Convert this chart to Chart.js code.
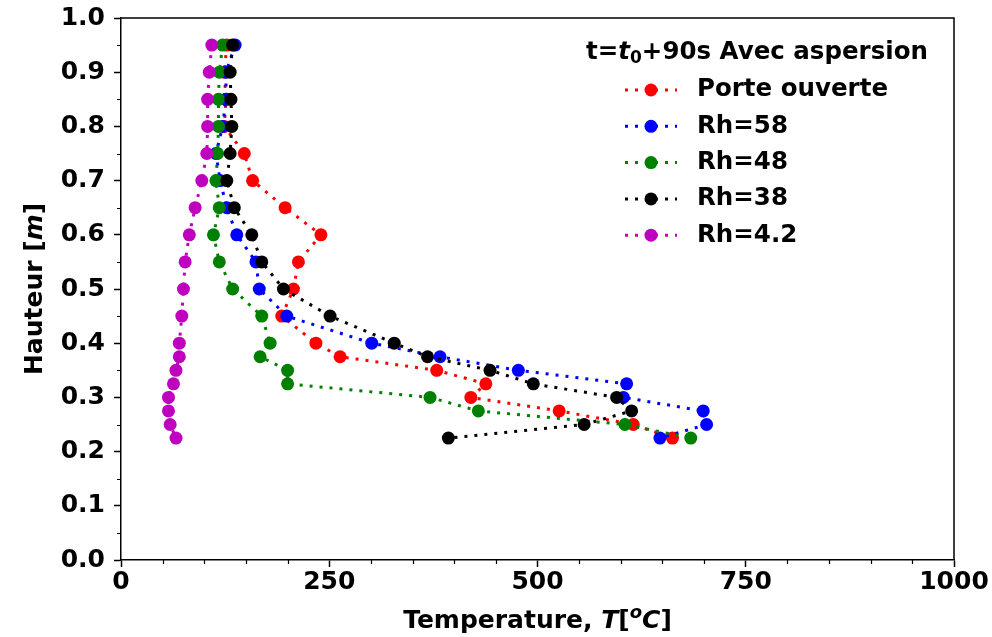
<!DOCTYPE html>
<html><head><meta charset="utf-8">
<script src="https://cdn.jsdelivr.net/npm/chart.js@4/dist/chart.umd.min.js"></script>
<style>html,body{margin:0;padding:0;background:#fff}</style>
</head><body>
<canvas id="c" width="992" height="637"></canvas>
<script>
// ---- data ----
const heights = [0.95,0.9,0.85,0.8,0.75,0.7,0.65,0.6,0.55,0.5,0.45,0.4,0.375,0.35,0.325,0.3,0.275,0.25,0.225];
const tempPorteOuverte = [127,124,126,124,148,158,197,240,213,207,193,234,263,379,438,420,526,615,662];
const tempRh58 = [137,126,126,122,114,119,127,139,162,166,199,301,383,477,607,603,699,703,647];
const tempRh48 = [122,118,117,117,116,114,118,111,118,134,169,179,167,200,200,371,429,605,684];
const tempRh38 = [134,131,132,133,131,127,136,157,169,195,251,328,368,443,495,595,613,556,393];
const tempRh42 = [109,106,104,104,103,97,89,82,77,75,73,70,70,66,63,57,57,59,66];
const seriesLabels = ['Porte ouverte','Rh=58','Rh=48','Rh=38','Rh=4.2'];
const seriesColors = ['#ff0000','#0000ff','#008000','#000000','#bf00bf'];
const xTickValues = [0,250,500,750,1000];
const yTickValues = [0,0.1,0.2,0.3,0.4,0.5,0.6,0.7,0.8,0.9,1.0];

const FONT = "'DejaVu Sans', 'Liberation Sans', sans-serif";
const FS = 25;
const LFS = 24.5;
const allTemps = [tempPorteOuverte,tempRh58,tempRh48,tempRh38,tempRh42];

const datasets = allTemps.map((arr,i)=>({
  label: seriesLabels[i],
  data: arr.map((t,k)=>({x:t,y:heights[k]})),
  showLine:true,
  borderColor: seriesColors[i],
  backgroundColor: seriesColors[i],
  pointBackgroundColor: seriesColors[i],
  pointBorderWidth:0,
  pointRadius:6.5,
  pointHoverRadius:6.5,
  borderWidth:3,
  borderDash:[3,7],
  borderCapStyle:'butt',
  tension:0,
  order: allTemps.length - i
}));

function drawRich(ctx, parts, x, y, align){
  let w = 0;
  parts.forEach(p=>{ctx.font=p.font; w += ctx.measureText(p.t).width;});
  let cx = align==='center' ? x - w/2 : x;
  ctx.textAlign='left'; ctx.textBaseline='middle';
  parts.forEach(p=>{ctx.font=p.font; ctx.fillText(p.t, cx, y + (p.dy||0)); cx += ctx.measureText(p.t).width;});
}

const decor = {
  id:'decor',
  afterDraw(chart){
    const ctx = chart.ctx, a = chart.chartArea;
    const xs = chart.scales.x, ys = chart.scales.y;
    ctx.save();
    ctx.strokeStyle='#000'; ctx.lineWidth=1.5;
    ctx.beginPath();
    ctx.moveTo(a.left, a.top); ctx.lineTo(a.right, a.top); ctx.lineTo(a.right, a.bottom);
    ctx.stroke();
    // minor ticks
    ctx.lineWidth=1.2;
    ctx.beginPath();
    for(let v=50; v<1000; v+=50){ if(v%250===0) continue; const px=Math.round(xs.getPixelForValue(v))+0.5; ctx.moveTo(px,a.bottom); ctx.lineTo(px,a.bottom+4); }
    for(let k=1;k<20;k+=2){ const py=Math.round(ys.getPixelForValue(k*0.05))+0.5; ctx.moveTo(a.left,py); ctx.lineTo(a.left-4,py); }
    ctx.stroke();
    // axis titles
    ctx.fillStyle='#000';
    const B = 'bold '+FS+'px '+FONT, BI = 'italic bold '+FS+'px '+FONT, BIs = 'italic bold '+Math.round(FS*0.7)+'px '+FONT;
    drawRich(ctx,[{t:'Temperature, ',font:B},{t:'T',font:BI},{t:'[',font:B},{t:'o',font:BIs,dy:-8},{t:'C',font:BI},{t:']',font:B}], (a.left+a.right)/2, 621, 'center');
    ctx.save();
    ctx.translate(35,(a.top+a.bottom)/2); ctx.rotate(-Math.PI/2);
    drawRich(ctx,[{t:'Hauteur [',font:B},{t:'m',font:BI},{t:']',font:B}],0,0,'center');
    ctx.restore();
    // legend
    const LB = 'bold '+LFS+'px '+FONT, LBI = 'italic bold '+LFS+'px '+FONT;
    drawRich(ctx,[{t:'t=',font:LB},{t:'t',font:LBI},{t:'0',font:'bold '+Math.round(LFS*0.7)+'px '+FONT,dy:6},{t:'+90s Avec aspersion',font:LB}], 757, 53, 'center');
    const ly0 = 90, dy = 36.3;
    chart.data.datasets.forEach((ds,i)=>{
      const y = ly0 + i*dy;
      ctx.strokeStyle = ds.borderColor; ctx.lineWidth=3; ctx.setLineDash([3,7]); ctx.lineCap='butt';
      ctx.beginPath(); ctx.moveTo(625,y); ctx.lineTo(677,y); ctx.stroke();
      ctx.setLineDash([]);
      ctx.fillStyle = ds.borderColor;
      ctx.beginPath(); ctx.arc(651,y,6.5,0,Math.PI*2); ctx.fill();
      ctx.fillStyle='#000'; ctx.font=LB; ctx.textAlign='left'; ctx.textBaseline='middle';
      ctx.fillText(ds.label, 697, y);
    });
    ctx.restore();
  }
};

new Chart(document.getElementById('c'), {
  type:'scatter',
  data:{datasets},
  options:{
    responsive:false, animation:false, devicePixelRatio:1,
    layout:{padding:{top:18,right:38,left:0,bottom:0}},
    plugins:{legend:{display:false}, tooltip:{enabled:false}},
    scales:{
      x:{type:'linear', min:0, max:1000,
        afterFit(s){ s.height = 77; s.paddingLeft = 0; s.paddingRight = 0; },
        afterBuildTicks(s){ s.ticks = xTickValues.map(v=>({value:v})); },
        ticks:{font:{family:FONT,size:FS,weight:'bold'}, color:'#000', padding:0, maxRotation:0, autoSkip:false, callback:v=>String(v)},
        grid:{drawOnChartArea:false, drawTicks:true, tickLength:7, tickColor:'#000', tickWidth:1.5},
        border:{display:true, color:'#000', width:1.5}
      },
      y:{type:'linear', min:0, max:1,
        afterFit(s){ s.width = 121; s.paddingTop = 0; s.paddingBottom = 0; },
        afterBuildTicks(s){ s.ticks = yTickValues.map(v=>({value:v})); },
        ticks:{font:{family:FONT,size:FS,weight:'bold'}, color:'#000', padding:9, autoSkip:false, callback:v=>Number(v).toFixed(1)},
        grid:{drawOnChartArea:false, drawTicks:true, tickLength:7, tickColor:'#000', tickWidth:1.5},
        border:{display:true, color:'#000', width:1.5}
      }
    }
  },
  plugins:[decor]
});
</script>
</body></html>
